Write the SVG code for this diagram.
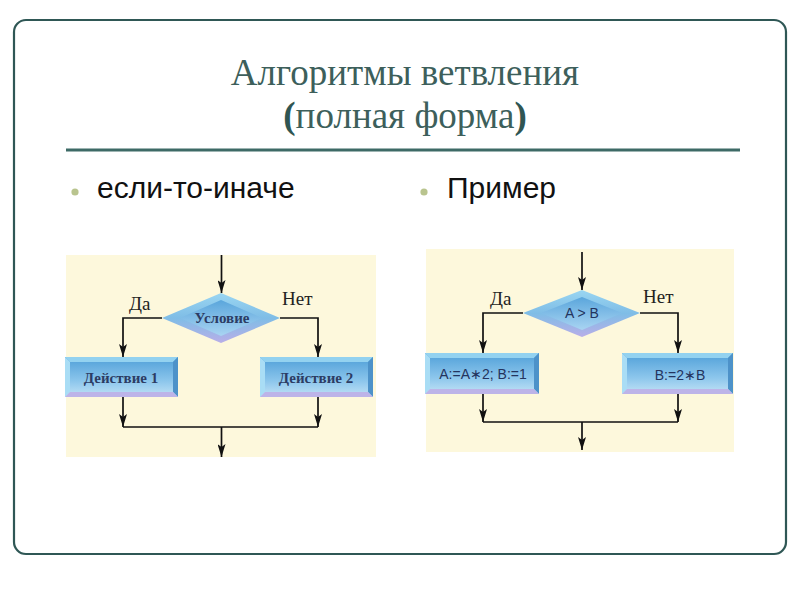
<svg xmlns="http://www.w3.org/2000/svg" width="800" height="600" viewBox="0 0 800 600">
<defs>
  <style>
    .title{font-family:"Liberation Serif","Times New Roman",serif;font-size:37px;fill:#3d5f5b;text-anchor:middle}
    .bul{font-family:"Liberation Sans",Arial,sans-serif;font-size:30px;fill:#111}
    .lbl{font-family:"Liberation Serif","Times New Roman",serif;font-size:19px;fill:#222}
    .bt{font-family:"Liberation Serif","Times New Roman",serif;font-size:15px;font-weight:bold;fill:#2c3c64;text-anchor:middle}
    .st{font-family:"Liberation Sans",Arial,sans-serif;font-size:14px;fill:#24345e;text-anchor:middle}
    .ln{stroke:#111;stroke-width:1.7;fill:none}
    .bg{fill:#fdf8dc}
    .bTop{fill:#93d2f0}.bLeft{fill:#a9ddf5}.bRight{fill:#4d92c9}.bBot{fill:#bdb4e8}
  </style>
  <marker id="ah" viewBox="0 0 13 8" refX="13" refY="4" markerWidth="13" markerHeight="8" orient="auto" markerUnits="userSpaceOnUse">
    <path d="M0,0 L13,4 L0,8 L3,4 Z" fill="#111"/>
  </marker>
  <linearGradient id="face" x1="0" y1="0" x2="0" y2="1">
    <stop offset="0" stop-color="#4f9fd8"/>
    <stop offset="0.6" stop-color="#8cc6ec"/>
    <stop offset="1" stop-color="#c3e3f6"/>
  </linearGradient>
  <linearGradient id="dOut" x1="0" y1="0" x2="0" y2="1">
    <stop offset="0" stop-color="#9ad6f2"/>
    <stop offset="0.5" stop-color="#7fbde6"/>
    <stop offset="1" stop-color="#b9aee8"/>
  </linearGradient>
  <linearGradient id="dIn" x1="0" y1="0" x2="0" y2="1">
    <stop offset="0" stop-color="#5aa6dc"/>
    <stop offset="1" stop-color="#a9d4f2"/>
  </linearGradient>
</defs>

<rect x="14" y="20" width="772" height="534" rx="12" ry="12" fill="#ffffff" stroke="#2f5755" stroke-width="2.2"/>

<g id="title">
  <text class="title" x="405" y="85">Алгоритмы ветвления</text>
  <text class="title" x="405" y="128"><tspan font-weight="bold" fill="#2f5552">(</tspan>полная форма<tspan font-weight="bold" fill="#2f5552">)</tspan></text>
  <line x1="66" y1="150" x2="740" y2="150" stroke="#3d6a66" stroke-width="3"/>
</g>

<g id="bullets">
  <circle cx="75" cy="192" r="3.6" fill="#b9c48e"/>
  <text class="bul" x="97" y="198">если-то-иначе</text>
  <circle cx="424" cy="192" r="3.6" fill="#b9c48e"/>
  <text class="bul" x="447" y="198">Пример</text>
</g>

<!-- Left diagram -->
<rect class="bg" x="66" y="255" width="310" height="202"/>
<g id="L-cond">
  <polygon points="221,293 280,318 221,343 162,318" fill="url(#dOut)"/>
  <polygon points="221,300 262,318 221,336 180,318" fill="url(#dIn)"/>
  <text class="bt" x="222" y="323" font-size="14">Условие</text>
</g>
<g id="L-act1">
  <rect x="65" y="357" width="113" height="40" fill="url(#face)"/>
  <polygon class="bTop" points="65,357 178,357 173,362 70,362"/>
  <polygon class="bLeft" points="65,357 70,362 70,392 65,397"/>
  <polygon class="bRight" points="178,357 178,397 173,392 173,362"/>
  <polygon class="bBot" points="65,397 70,392 173,392 178,397"/>
  <text class="bt" x="121" y="383">Действие 1</text>
</g>
<g id="L-act2">
  <rect x="260" y="357" width="113" height="40" fill="url(#face)"/>
  <polygon class="bTop" points="260,357 373,357 368,362 265,362"/>
  <polygon class="bLeft" points="260,357 265,362 265,392 260,397"/>
  <polygon class="bRight" points="373,357 373,397 368,392 368,362"/>
  <polygon class="bBot" points="260,397 265,392 368,392 373,397"/>
  <text class="bt" x="316" y="383">Действие 2</text>
</g>
<g id="L-labels">
  <text class="lbl" x="129" y="310">Да</text>
  <text class="lbl" x="282" y="305">Нет</text>
</g>

<!-- Right diagram -->
<rect class="bg" x="426" y="249" width="308" height="203"/>
<g id="R-cond">
  <polygon points="582,290 640,313 582,337 523,313" fill="url(#dOut)"/>
  <polygon points="582,297 622,313 582,330 541,313" fill="url(#dIn)"/>
  <text class="st" x="582" y="318" font-size="13">A &gt; B</text>
</g>
<g id="R-act1">
  <rect x="425" y="353" width="114" height="41" fill="url(#face)"/>
  <polygon class="bTop" points="425,353 539,353 534,358 430,358"/>
  <polygon class="bLeft" points="425,353 430,358 430,389 425,394"/>
  <polygon class="bRight" points="539,353 539,394 534,389 534,358"/>
  <polygon class="bBot" points="425,394 430,389 534,389 539,394"/>
  <text class="st" x="483" y="379" font-size="14">A:=A∗2; B:=1</text>
</g>
<g id="R-act2">
  <rect x="622" y="353" width="111" height="41" fill="url(#face)"/>
  <polygon class="bTop" points="622,353 733,353 728,358 627,358"/>
  <polygon class="bLeft" points="622,353 627,358 627,389 622,394"/>
  <polygon class="bRight" points="733,353 733,394 728,389 728,358"/>
  <polygon class="bBot" points="622,394 627,389 728,389 733,394"/>
  <text class="st" x="680" y="380" font-size="17">B:=2∗B</text>
</g>
<g id="R-labels">
  <text class="lbl" x="490" y="305">Да</text>
  <text class="lbl" x="643" y="303">Нет</text>
</g>

<g id="connectors">
  <!-- left -->
  <line class="ln" x1="221.5" y1="255" x2="221.5" y2="293" marker-end="url(#ah)"/>
  <polyline class="ln" points="162,318 123,318 123,357" marker-end="url(#ah)"/>
  <polyline class="ln" points="280,318 318,318 318,357" marker-end="url(#ah)"/>
  <line class="ln" x1="123" y1="397" x2="123" y2="427" marker-end="url(#ah)"/>
  <line class="ln" x1="318" y1="397" x2="318" y2="427" marker-end="url(#ah)"/>
  <line class="ln" x1="123" y1="427" x2="318" y2="427"/>
  <line class="ln" x1="221.5" y1="427" x2="221.5" y2="457" marker-end="url(#ah)"/>
  <!-- right -->
  <line class="ln" x1="582" y1="252" x2="582" y2="290" marker-end="url(#ah)"/>
  <polyline class="ln" points="523,313 483,313 483,353" marker-end="url(#ah)"/>
  <polyline class="ln" points="640,313 678,313 678,353" marker-end="url(#ah)"/>
  <line class="ln" x1="483" y1="394" x2="483" y2="422" marker-end="url(#ah)"/>
  <line class="ln" x1="678" y1="394" x2="678" y2="422" marker-end="url(#ah)"/>
  <line class="ln" x1="483" y1="422" x2="678" y2="422"/>
  <line class="ln" x1="582" y1="422" x2="582" y2="450" marker-end="url(#ah)"/>
</g>
</svg>
